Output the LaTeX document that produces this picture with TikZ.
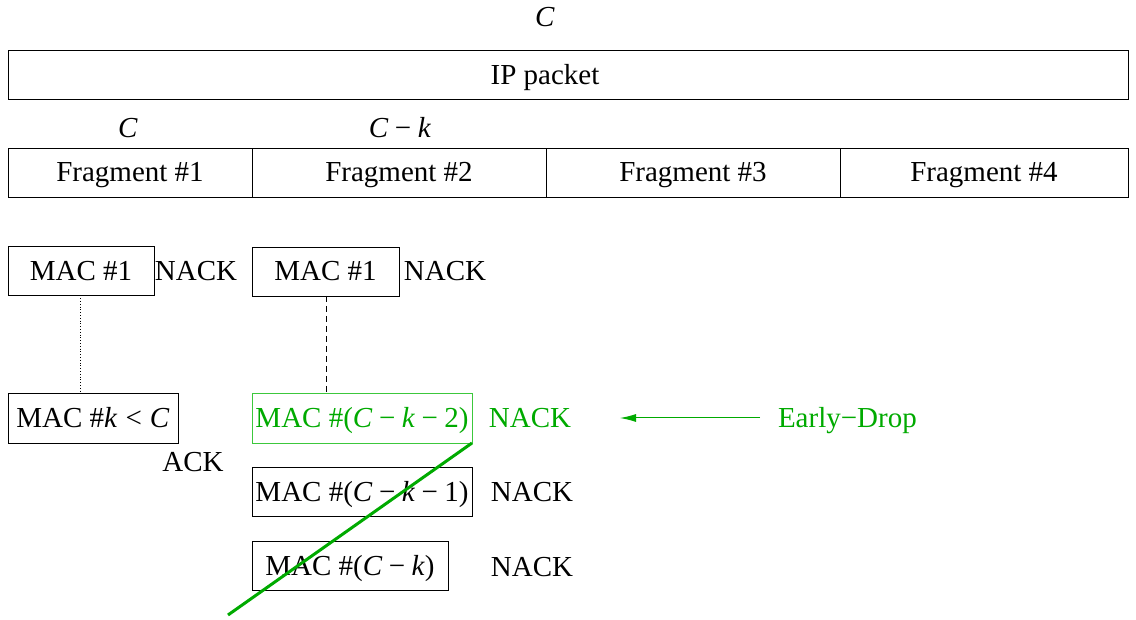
\documentclass[tikz,border=0pt]{standalone}
\usepackage{fontspec}
\setmainfont{Liberation Serif}
\usetikzlibrary{arrows.meta}
\definecolor{grn}{RGB}{0,170,0}
\definecolor{grnbox}{RGB}{60,200,60}
\newcommand\mmin{\hspace{0.2222em}−\hspace{0.2222em}}
\newcommand\mrel{\hspace{0.2778em}<\hspace{0.2778em}}
\newcommand\vC{\textit{C}}
\newcommand\vk{\textit{k}}
\tikzset{
  box/.style={draw, line width=0.9pt, inner sep=0pt, outer sep=0pt, minimum height=49pt, text height=19pt, text depth=0pt},
  lbl/.style={inner sep=0pt, outer sep=0pt, text height=19pt, text depth=0pt},
}
\begin{document}
\begin{tikzpicture}[x=1pt,y=-1pt,font=\fontsize{29}{34}\selectfont]
\useasboundingbox (0,0) rectangle (1136,620);
% top
\node[lbl] (ctop) at (545,17) {\vC};
\node[box, minimum width=1120pt] (ip) at (568,74.5) {};
\node[lbl] (iptext) at (545,75) {IP packet};
\node[lbl] (c1) at (128,128) {\vC};
\node[lbl] (c2) at (400,128) {\vC\mmin\vk};
% fragments
\node[box, minimum width=244pt] (f1) at (130,172.5) {Fragment \#1};
\node[box, minimum width=294pt] (f2) at (399,172.5) {Fragment \#2};
\node[box, minimum width=294pt] (f3) at (693,172.5) {Fragment \#3};
\node[box, minimum width=288pt] (f4) at (984,172.5) {Fragment \#4};
% left column
\node[box, minimum width=146pt] (m11) at (81,271) {MAC \#1};
\node[lbl] (n11) at (196,271) {NACK};
\node[box, minimum width=170pt, minimum height=50pt] (mk) at (93,418) {MAC \#\vk\mrel\vC};
\node[lbl] (ack) at (193,462) {ACK};
\draw[dotted, line width=0.8pt] (m11.south -| 80,0) -- (mk.north -| 80,0);
% right column
\node[box, minimum width=147pt] (m21) at (325.5,271.5) {MAC \#1};
\node[lbl] (n21) at (445,271) {NACK};
\node[box, draw=grnbox, text=grn, minimum width=220pt, minimum height=50pt] (mg) at (362,418) {MAC \#(\vC\mmin\vk\mmin2)};
\node[lbl, text=grn] (ng) at (530,418) {NACK};
\draw[dashed, line width=0.8pt, dash pattern=on 6pt off 4pt] (m21.south -| 326,0) -- (mg.north -| 326,0);
\node[lbl, text=grn, anchor=west] (ed) at (778,418) {Early−Drop};
\coordinate (arrs) at (760,418);
\coordinate (arre) at (620,418);
\draw[grn, line width=1pt, -{Latex[length=16pt,width=8pt]}] (arrs) -- (arre);
\node[box, minimum width=220pt] (m3) at (362,491.5) {MAC \#(\vC\mmin\vk\mmin1)};
\node[lbl] (n3) at (532,492) {NACK};
\node[box, minimum width=196pt] (m4) at (350,565.5) {MAC \#(\vC\mmin\vk)};
\node[lbl] (n4) at (532,567) {NACK};
\coordinate (slash) at (228,615);
\draw[grn, line width=3pt] (mg.south east) -- (slash);
\end{tikzpicture}
\end{document}
